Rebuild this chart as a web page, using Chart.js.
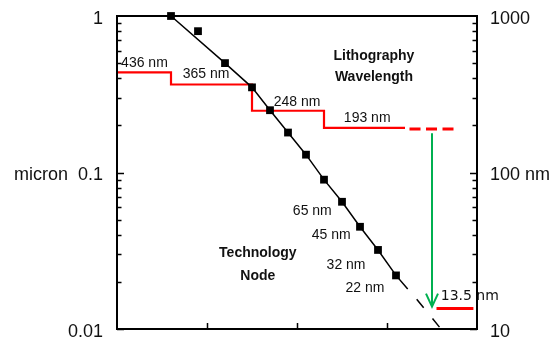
<!DOCTYPE html>
<html>
<head>
<meta charset="utf-8">
<script src="https://cdn.jsdelivr.net/npm/chart.js@4.4.0/dist/chart.umd.min.js"></script>
<style>
  html, body { margin: 0; padding: 0; background: #fff; }
  #wrap { width: 550px; height: 343px; }
</style>
</head>
<body>
<div id="wrap"><canvas id="chart" width="550" height="343"></canvas></div>
<script>
// Technology node (micron) by year
const nodeYears = [1986, 1989, 1992, 1995, 1997, 1999, 2001, 2003, 2005, 2007, 2009, 2011];
const nodeSizes = [1.0, 0.8, 0.5, 0.35, 0.25, 0.18, 0.13, 0.09, 0.065, 0.045, 0.032, 0.022];

// Trend line through the nodes (0.8 sits off the line)
const trendYears = [1986, 1992, 1995, 1997, 1999, 2001, 2003, 2005, 2007, 2009, 2011, 2012.3];
const trendSizes = [1.0, 0.5, 0.35, 0.25, 0.18, 0.13, 0.09, 0.065, 0.045, 0.032, 0.022, 0.018];
const trendExtYears = [2013.3, 2016];
const trendExtSizes = [0.0155, 0.01];

// Lithography wavelength (micron)
const waveYears = [1980, 1986, 1995, 2003, 2012];
const waveSizes = [0.436, 0.365, 0.248, 0.193, 0.193];
const waveExtYears = [2012.5, 2017.6];
const waveExtSizes = [0.19, 0.19];
const euvYears = [2015.5, 2019.6];
const euvSizes = [0.0135, 0.0135];
const arrowYears = [2015, 2015];
const arrowSizes = [0.178, 0.0139];

// Axis ticks
const yTicks = [1, 0.1, 0.01];
const leftLabels = ['1', 'micron  0.1', '0.01'];
const rightLabels = ['1000', '100 nm', '10'];
const xTicks = [1990, 2000, 2010];

// Text on the plot (data coordinates)
const notes = [
    { text: '436 nm', x: 1983.05, y: 0.50 },
    { text: '365 nm', x: 1989.9, y: 0.426 },
    { text: '248 nm', x: 2000.0, y: 0.283 },
    { text: '193 nm', x: 2007.8, y: 0.222 },
    { text: 'Lithography', x: 2008.55, y: 0.55, bold: true },
    { text: 'Wavelength', x: 2008.55, y: 0.406, bold: true },
    { text: 'Technology', x: 1995.65, y: 0.0305, bold: true },
    { text: 'Node', x: 1995.65, y: 0.0219, bold: true },
    { text: '65 nm', x: 2001.7, y: 0.057 },
    { text: '45 nm', x: 2003.8, y: 0.040 },
    { text: '32 nm', x: 2005.45, y: 0.0256 },
    { text: '22 nm', x: 2007.55, y: 0.0182 },
    { text: '13.5 nm', x: 2019.2, y: 0.01625, alt: true }
];

const FONT = 'Arial, "Liberation Sans", sans-serif';

function pts(xs, ys) {
    return xs.map(function(x, i) { return { x: x, y: ys[i] }; });
}

function fixAxis(width) {
    return function(s) {
        s.width = width;
        // keep label half-heights from pushing the plot area in
        s.paddingTop = 0;
        s.paddingBottom = 0;
    };
}

// Frame, inward ticks, arrow head and notes
const decor = {
    id: 'decor',
    afterDatasetsDraw(chart) {
        const ctx = chart.ctx;
        const a = chart.chartArea;
        const xs = chart.scales.x, ys = chart.scales.y;
        ctx.save();

        notes.forEach(function(n) {
            if (n.alt) ctx.font = '14px "DejaVu Sans", sans-serif';
            else ctx.font = (n.bold ? 'bold ' : '') + '14px ' + FONT;
            ctx.fillStyle = '#111';
            ctx.textAlign = 'center';
            ctx.textBaseline = 'middle';
            ctx.fillText(n.text, xs.getPixelForValue(n.x), ys.getPixelForValue(n.y));
        });

        // arrow head
        const tx = xs.getPixelForValue(arrowYears[1]);
        const ty = ys.getPixelForValue(arrowSizes[1]);
        ctx.strokeStyle = '#00b050';
        ctx.lineWidth = 2;
        ctx.beginPath();
        ctx.moveTo(tx - 6, ty - 13);
        ctx.lineTo(tx, ty);
        ctx.lineTo(tx + 6, ty - 13);
        ctx.stroke();

        // log ticks on both sides, pointing in
        ctx.strokeStyle = '#000';
        ctx.lineWidth = 1.5;
        ctx.beginPath();
        [0.01, 0.1].forEach(function(dec) {
            for (let m = 1; m <= 9; m++) {
                const py = Math.round(ys.getPixelForValue(m * dec)) + 0.5;
                const len = m === 1 ? 7 : 4.5;
                ctx.moveTo(a.left, py); ctx.lineTo(a.left + len, py);
                ctx.moveTo(a.right, py); ctx.lineTo(a.right - len, py);
            }
        });
        xTicks.forEach(function(v) {
            const px = Math.round(xs.getPixelForValue(v)) + 0.5;
            ctx.moveTo(px, a.bottom); ctx.lineTo(px, a.bottom - 6);
        });
        ctx.stroke();

        ctx.lineWidth = 2;
        ctx.strokeRect(a.left, a.top, a.right - a.left, a.bottom - a.top);
        ctx.restore();
    }
};

new Chart(document.getElementById('chart'), {
    type: 'scatter',
    data: {
        datasets: [
            {
                data: pts(nodeYears, nodeSizes),
                pointStyle: 'rect', pointRadius: 5.5,
                backgroundColor: '#000', borderColor: '#000', borderWidth: 0,
                showLine: false, clip: false, order: 0
            },
            {
                data: pts(trendYears, trendSizes),
                showLine: true, borderColor: '#000', borderWidth: 1.5,
                pointRadius: 0, clip: false, order: 1
            },
            {
                data: pts(trendExtYears, trendExtSizes),
                showLine: true, borderColor: '#000', borderWidth: 1.5,
                borderDash: [11, 14], pointRadius: 0, order: 1
            },
            {
                data: pts(waveYears, waveSizes),
                showLine: true, stepped: 'before', borderColor: '#ff0000', borderWidth: 2.2,
                pointRadius: 0, order: 2
            },
            {
                data: pts(waveExtYears, waveExtSizes),
                showLine: true, borderColor: '#ff0000', borderWidth: 3,
                borderDash: [11, 5.5], pointRadius: 0, order: 2
            },
            {
                data: pts(euvYears, euvSizes),
                showLine: true, borderColor: '#ff0000', borderWidth: 3,
                pointRadius: 0, order: 2
            },
            {
                data: pts(arrowYears, arrowSizes),
                showLine: true, borderColor: '#00b050', borderWidth: 2,
                pointRadius: 0, order: 2
            }
        ]
    },
    options: {
        responsive: false,
        animation: false,
        layout: { padding: { top: 16, bottom: 14, left: 0, right: 0 } },
        plugins: {
            legend: { display: false },
            tooltip: { enabled: false }
        },
        scales: {
            x: { type: 'linear', min: 1980, max: 2020, display: false },
            y: {
                type: 'logarithmic', position: 'left', min: 0.01, max: 1,
                grid: { display: false, drawTicks: false },
                border: { display: false },
                afterBuildTicks: function(s) { s.ticks = yTicks.map(function(v) { return { value: v }; }); },
                afterFit: fixAxis(117),
                ticks: {
                    padding: 14, color: '#111', labelOffset: 3,
                    font: { family: FONT, size: 18 },
                    callback: function(v) { return leftLabels[yTicks.indexOf(v)]; }
                }
            },
            y2: {
                type: 'logarithmic', position: 'right', min: 0.01, max: 1,
                grid: { display: false, drawTicks: false },
                border: { display: false },
                afterBuildTicks: function(s) { s.ticks = yTicks.map(function(v) { return { value: v }; }); },
                afterFit: fixAxis(73),
                ticks: {
                    padding: 13, color: '#111', labelOffset: 3,
                    font: { family: FONT, size: 18 },
                    callback: function(v) { return rightLabels[yTicks.indexOf(v)]; }
                }
            }
        }
    },
    plugins: [decor]
});
</script>
</body>
</html>
